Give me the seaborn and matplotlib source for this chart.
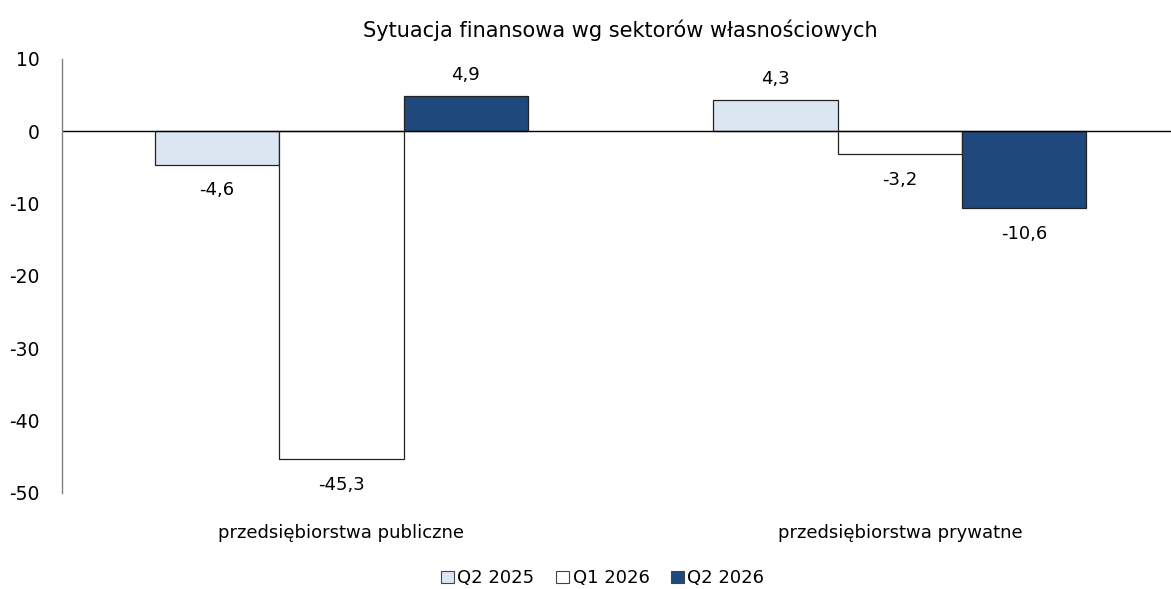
import numpy as np
import pandas as pd
import matplotlib.pyplot as plt
import seaborn as sns

sectors = ['przedsiębiorstwa publiczne', 'przedsiębiorstwa prywatne']
periods = ['Q2 2025', 'Q1 2026', 'Q2 2026']
q2_2025 = [-4.6, 4.3]
q1_2026 = [-45.3, -3.2]
q2_2026 = [4.9, -10.6]
colors = ['#DCE6F2', '#FFFFFF', '#1F497D']
yticks = [10, 0, -10, -20, -30, -40, -50]

df = pd.DataFrame({
    'sector': sectors * 3,
    'period': [p for p in periods for _ in sectors],
    'value': q2_2025 + q1_2026 + q2_2026,
})

sns.set_style('white')
plt.rcParams['font.family'] = ['DejaVu Sans']
plt.rcParams['text.color'] = 'black'

fig = plt.figure(figsize=(11.71, 5.89), dpi=100)
ax = fig.add_axes([0.053, 0.163, 0.954, 0.737])

sns.barplot(data=df, x='sector', y='value', hue='period', hue_order=periods,
            palette=colors, width=0.668, edgecolor='#222222', linewidth=0.9,
            saturation=1, ax=ax, legend=True)

ax.axhline(0, color='black', linewidth=1)
ax.set_ylim(-50, 10)
ax.set_yticks(yticks)
ax.set_yticklabels([str(t) for t in yticks])
ax.tick_params(axis='y', length=0, labelsize=13.5, pad=16, labelcolor='black')
ax.tick_params(axis='x', length=0, labelsize=13, pad=22, labelcolor='black')
ax.set_xlabel('')
ax.set_ylabel('')
for s in ['top', 'right', 'bottom']:
    ax.spines[s].set_visible(False)
ax.spines['left'].set_color('#808080')
ax.spines['left'].set_linewidth(1)

# data labels: a bit closer above positive bars, further below negative ones
for cont in ax.containers[:3]:
    for bar, v in zip(cont, cont.datavalues):
        txt = f'{v:.1f}'.replace('.', ',')
        pad = 8.5 if v >= 0 else 12
        ax.bar_label(cont, labels=[txt if b is bar else '' for b in cont],
                     padding=pad, fontsize=13, color='black')

ax.set_title('Sytuacja finansowa wg sektorów własnościowych', fontsize=15,
             pad=16, color='black')

leg = ax.legend(loc='upper center', bbox_to_anchor=(0.484, -0.138), ncol=3,
                frameon=False, fontsize=13, handlelength=0.7, handleheight=0.7,
                handletextpad=0.2, columnspacing=1.2)
for h in leg.legend_handles:
    h.set_edgecolor('#444444')
    h.set_linewidth(0.8)

fig.savefig('out.png', dpi=100)
